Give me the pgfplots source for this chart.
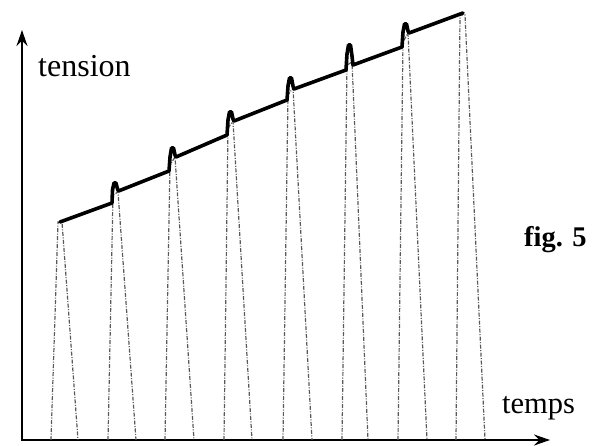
\documentclass[border=0pt]{standalone}
\usepackage{fontspec}
\setmainfont{Liberation Serif}
\usepackage{pgfplots}
\pgfplotsset{compat=1.18}
\usetikzlibrary{arrows.meta}
\begin{document}
\begin{tikzpicture}
\begin{axis}[
  x=1pt, y=1pt,
  xmin=22, xmax=550, ymin=5, ymax=415,
  hide axis,
  clip=false,
]
% bounding box of the whole figure
\path (axis cs:0,0) rectangle (axis cs:592,445);

% axes with arrows
\addplot[black, line width=1.8pt, -{Stealth[length=16pt,width=11pt]}] coordinates {(22,4.1) (22,415)};
\addplot[black, line width=1.8pt, -{Stealth[length=16pt,width=11pt]}] coordinates {(21.1,5) (550,5)};

% dashed triangles (discharge ramps)
\addplot[black!65, line width=1.2pt, dash pattern=on 4pt off 1.5pt on 1pt off 1.5pt] table {
x y
51 5
58 223
62 223
78 5

108 5
113 250
118 253
136 5

165 5
170 280
175 288
194 5

224 5
228 317
233 324
252 5

283 5
288 350
293 357
312 5

342 5
347 380
352 383
368 5

398 5
403 403
408 412
427 5

456 5
460 430
465 430
485 5
};

% thick rising tension line with spikes
\addplot[black, line width=3.6pt, line join=round, line cap=round] coordinates {
(60,223)
(112,242) (112.5,255) (114,262) (116,262) (117.5,256) (118.5,254)
(169,274) (170,288) (171.5,297) (173.5,297) (175,290) (176,288)
(227,310) (228,325) (229.5,333) (231.5,333) (233,326) (234,324)
(287,345) (288,359) (289.5,367) (291.5,367) (293,359) (294,356)
(346,375) (347,391) (348.5,400) (350.5,400) (352,389) (353,380)
(402,398) (403,413) (404.5,421) (406.5,421) (408,414) (409,412)
(463,432)
};

\node[anchor=base west, inner sep=0pt, font=\fontsize{32}{36}\selectfont] at (axis cs:38,368) {tension};
\node[anchor=base west, inner sep=0pt, font=\fontsize{30.5}{36}\selectfont] at (axis cs:502,32) {temps};
\node[anchor=base west, inner sep=0pt, font=\fontsize{28.5}{34}\selectfont\bfseries] at (axis cs:524,199) {fig. 5};
\end{axis}
\end{tikzpicture}
\end{document}
